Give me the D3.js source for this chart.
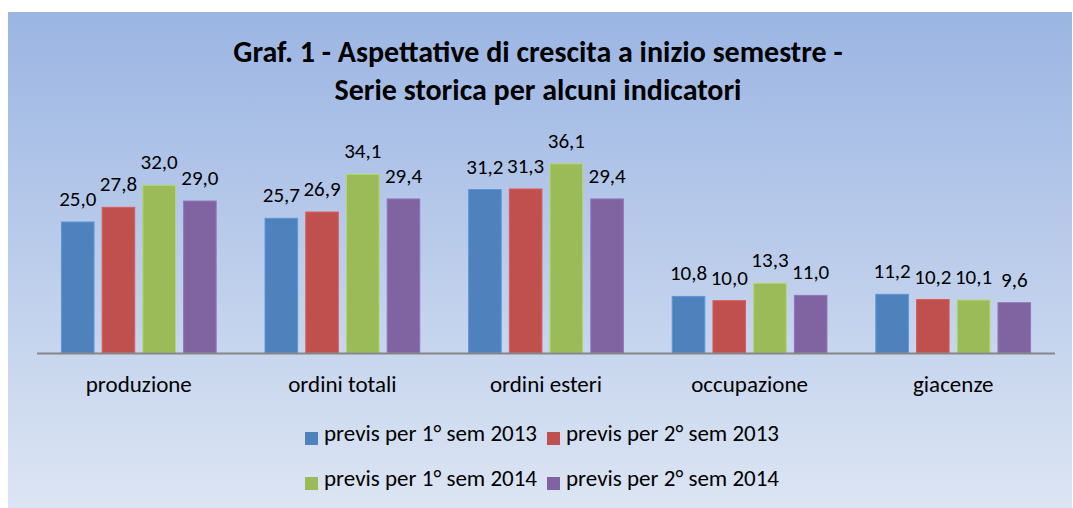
<!DOCTYPE html>
<html>
<head>
<meta charset="utf-8">
<script src="https://cdn.jsdelivr.net/npm/d3@7"></script>
<style>
  html, body { margin: 0; padding: 0; background: #ffffff; }
  svg { display: block; font-family: Carlito, Calibri, Lato, "Open Sans", sans-serif; }
</style>
</head>
<body>
<div id="chart"></div>
<script>
// chart data
const categories = ['produzione', 'ordini totali', 'ordini esteri', 'occupazione', 'giacenze'];
const seriesNames = ['previs per 1° sem 2013', 'previs per 2° sem 2013', 'previs per 1° sem 2014', 'previs per 2° sem 2014'];
const sem1_2013 = [25.0, 25.7, 31.2, 10.8, 11.2];
const sem2_2013 = [27.8, 26.9, 31.3, 10.0, 10.2];
const sem1_2014 = [32.0, 34.1, 36.1, 13.3, 10.1];
const sem2_2014 = [29.0, 29.4, 29.4, 11.0, 9.6];
const seriesColors = ['#4F81BD', '#C0504D', '#9BBB59', '#8064A2'];
const titleLines = ['Graf. 1 - Aspettative di crescita a inizio semestre -', 'Serie storica per alcuni indicatori'];

const width = 1073, height = 508;
const seriesValues = [sem1_2013, sem2_2013, sem1_2014, sem2_2014];
const fontFamily = 'Carlito, Calibri, Lato, "Open Sans", sans-serif';

const svg = d3.select('#chart').append('svg')
  .attr('width', width)
  .attr('height', height);

// background gradient
const defs = svg.append('defs');
const grad = defs.append('linearGradient')
  .attr('id', 'bg').attr('x1', 0).attr('y1', 0).attr('x2', 0).attr('y2', 1);
grad.append('stop').attr('offset', '0%').attr('stop-color', '#9BB5E3');
grad.append('stop').attr('offset', '100%').attr('stop-color', '#DCE5F3');

svg.append('rect')
  .attr('x', 8).attr('y', 12)
  .attr('width', width - 9).attr('height', height - 12)
  .attr('fill', 'url(#bg)');

// title
svg.selectAll('.title')
  .data(titleLines)
  .enter()
  .append('text')
  .attr('class', 'title')
  .attr('x', 538)
  .attr('y', (d, i) => 62 + i * 38)
  .attr('text-anchor', 'middle')
  .attr('font-size', '30px')
  .attr('font-weight', 'bold')
  .attr('fill', '#000')
  .text(d => d);

// scales
const x0 = d3.scaleBand()
  .domain(categories)
  .range([37, 1055])
  .paddingInner(0.24)
  .paddingOuter(0.12);

const x1 = d3.scaleBand()
  .domain(d3.range(seriesNames.length))
  .range([0, x0.bandwidth()])
  .paddingInner(0.2);

const y = d3.scaleLinear()
  .domain([0, 40])
  .range([353, 143.4]);

// bars
const groups = svg.selectAll('.grp')
  .data(categories)
  .enter()
  .append('g')
  .attr('class', 'grp')
  .attr('transform', d => `translate(${x0(d)},0)`);

groups.selectAll('rect')
  .data((c, ci) => seriesValues.map((s, si) => ({ si, value: s[ci] })))
  .enter()
  .append('rect')
  .attr('x', d => x1(d.si))
  .attr('y', d => y(d.value))
  .attr('width', x1.bandwidth())
  .attr('height', d => y(0) - y(d.value))
  .attr('fill', d => seriesColors[d.si])
  .attr('stroke', d => d3.color(seriesColors[d.si]).brighter(0.4))
  .attr('stroke-width', 1);

groups.selectAll('text.val')
  .data((c, ci) => seriesValues.map((s, si) => ({ si, value: s[ci] })))
  .enter()
  .append('text')
  .attr('class', 'val')
  .attr('x', d => x1(d.si) + x1.bandwidth() / 2)
  .attr('y', d => y(d.value) - 16)
  .attr('text-anchor', 'middle')
  .attr('font-size', '21px')
  .attr('fill', '#000')
  .text(d => d3.format('.1f')(d.value).replace('.', ','));

// axis line + category labels
const axis = svg.append('g')
  .attr('transform', `translate(0,${y(0)})`)
  .call(d3.axisBottom(x0).tickSize(0));
axis.select('.domain')
  .attr('d', 'M37,0.5H1055')
  .attr('stroke', '#868686')
  .attr('stroke-width', 2);
axis.selectAll('text')
  .attr('y', 39)
  .attr('dy', 0)
  .attr('font-family', fontFamily)
  .attr('font-size', '23px')
  .attr('fill', '#000');

// legend
const legendPos = [[305, 432], [547, 432], [305, 477], [547, 477]];
const leg = svg.selectAll('.leg')
  .data(seriesNames)
  .enter()
  .append('g')
  .attr('class', 'leg')
  .attr('transform', (d, i) => `translate(${legendPos[i][0]},${legendPos[i][1]})`);
leg.append('rect')
  .attr('width', 13).attr('height', 13)
  .attr('fill', (d, i) => seriesColors[i]);
leg.append('text')
  .attr('x', 19).attr('y', 9)
  .attr('font-size', '23px')
  .attr('fill', '#000')
  .text(d => d);
</script>
</body>
</html>
